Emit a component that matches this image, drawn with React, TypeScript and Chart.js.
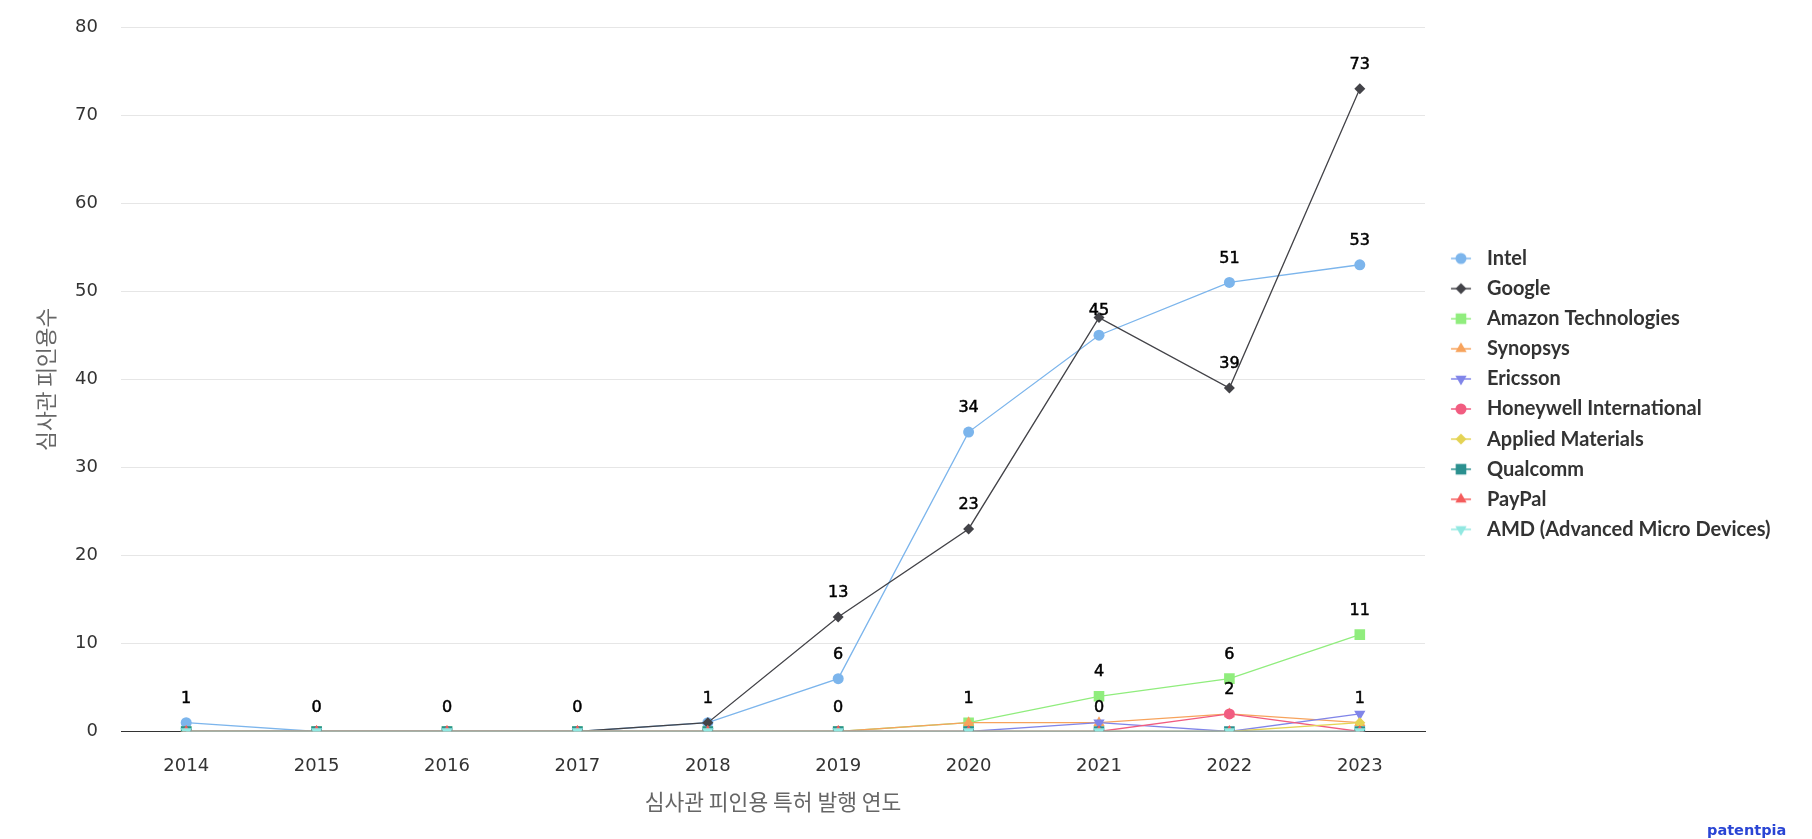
import React, { useEffect, useRef } from 'react';
import { Chart, registerables } from 'chart.js';
import { drawPoint } from 'chart.js/helpers';

Chart.register(...registerables);

const CANVAS_W = 1812;
const CANVAS_H = 839;

const years = ['2014', '2015', '2016', '2017', '2018', '2019', '2020', '2021', '2022', '2023'];

const intel = [1, 0, 0, 0, 1, 6, 34, 45, 51, 53];
const google = [0, 0, 0, 0, 1, 13, 23, 47, 39, 73];
const amazon = [0, 0, 0, 0, 0, 0, 1, 4, 6, 11];
const synopsys = [0, 0, 0, 0, 0, 0, 1, 1, 2, 1];
const ericsson = [0, 0, 0, 0, 0, 0, 0, 1, 0, 2];
const honeywell = [0, 0, 0, 0, 0, 0, 0, 0, 2, 0];
const applied = [0, 0, 0, 0, 0, 0, 0, 0, 0, 1];
const qualcomm = [0, 0, 0, 0, 0, 0, 0, 0, 0, 0];
const paypal = [0, 0, 0, 0, 0, 0, 0, 0, 0, 0];
const amd = [0, 0, 0, 0, 0, 0, 0, 0, 0, 0];

const seriesNames = [
  'Intel',
  'Google',
  'Amazon Technologies',
  'Synopsys',
  'Ericsson',
  'Honeywell International',
  'Applied Materials',
  'Qualcomm',
  'PayPal',
  'AMD (Advanced Micro Devices)',
];
const seriesValues = [intel, google, amazon, synopsys, ericsson, honeywell, applied, qualcomm, paypal, amd];
const seriesColors = ['#7cb5ec', '#434348', '#90ed7d', '#f7a35c', '#8085e9', '#f15c80', '#e4d354', '#2b908f', '#f45b5b', '#91e8e1'];
const markerStyles = ['circle', 'rectRot', 'rect', 'triangle', 'triangle', 'circle', 'rectRot', 'rect', 'triangle', 'triangle'];
const markerRotations = [0, 0, 0, 0, 180, 0, 0, 0, 0, 180];
const markerRadii = [5.5, 5.5, 7.5, 6.5, 6.5, 5.5, 5.5, 7.5, 6.5, 6.5];

// which points (by category index) show a value label, per series
const labelIndexes = [
  [0, 1, 2, 3, 4, 5, 6, 7, 8, 9],
  [5, 6, 8, 9],
  [5, 6, 7, 8, 9],
  [],
  [],
  [7, 8],
  [9],
  [],
  [],
  [],
];

const yMin = 0;
const yMax = 80;
const yStep = 10;

const xTitle = '심사관 피인용 특허 발행 연도';
const yTitle = '심사관 피인용수';
const creditText = 'patentpia';

const LATIN = '"DejaVu Sans", sans-serif';
const KOREAN = '"Noto Sans CJK KR", sans-serif';
const LEGEND_FAMILY = 'Lato, "DejaVu Sans", sans-serif';
const LEGEND_WEIGHT = 'bold';

// layout targets (full-size pixels)
const PLOT_TOP = 27;
const PLOT_BOTTOM = 731.5;
const PLOT_LEFT = 121;
const PLOT_RIGHT = 1425;
const LEGEND_TEXT_X = 1487;
const LEGEND_SYMBOL_X0 = 1451;
const LEGEND_SYMBOL_X1 = 1471;
const LEGEND_FIRST_ROW_Y = 258.5;
const LEGEND_ROW_STEP = 30.1;
const LEGEND_TEXT_TARGET_W = 284;

function makeLegendSymbol(i: number, cx: number): HTMLCanvasElement {
  const w = Math.ceil(2 * (LEGEND_SYMBOL_X1 + 2 - cx));
  const imgLeft = cx - w / 2;
  const c = document.createElement('canvas');
  c.width = w;
  c.height = 18;
  const ctx = c.getContext('2d') as CanvasRenderingContext2D;
  ctx.strokeStyle = seriesColors[i];
  ctx.lineWidth = 1.5;
  ctx.beginPath();
  ctx.moveTo(LEGEND_SYMBOL_X0 - imgLeft, 9);
  ctx.lineTo(LEGEND_SYMBOL_X1 - imgLeft, 9);
  ctx.stroke();
  ctx.fillStyle = seriesColors[i];
  drawPoint(
    ctx,
    { pointStyle: markerStyles[i] as any, rotation: markerRotations[i], radius: markerRadii[i], borderWidth: 0 } as any,
    (LEGEND_SYMBOL_X0 + LEGEND_SYMBOL_X1) / 2 - imgLeft,
    9
  );
  return c;
}

const dataLabelPlugin = {
  id: 'valueLabels',
  afterDatasetsDraw(chart: any) {
    const ctx = chart.ctx as CanvasRenderingContext2D;
    ctx.save();
    ctx.font = `16px ${LATIN}`;
    ctx.fillStyle = '#000000';
    ctx.strokeStyle = '#000000';
    ctx.lineWidth = 0.5;
    ctx.textAlign = 'center';
    ctx.textBaseline = 'middle';
    labelIndexes.forEach((idxs, di) => {
      const meta = chart.getDatasetMeta(di);
      idxs.forEach((j) => {
        const pt = meta.data[j];
        if (!pt) return;
        const v = chart.data.datasets[di].data[j];
        ctx.fillText(String(v), pt.x, pt.y - 24);
        ctx.strokeText(String(v), pt.x, pt.y - 24);
      });
    });
    ctx.restore();
  },
};

export default function App() {
  const canvasRef = useRef<HTMLCanvasElement | null>(null);

  useEffect(() => {
    const canvas = canvasRef.current;
    if (!canvas) return;

    // fit legend font size to the reference text width
    const mctx = document.createElement('canvas').getContext('2d') as CanvasRenderingContext2D;
    mctx.font = `${LEGEND_WEIGHT} 20px ${LEGEND_FAMILY}`;
    const w20 = Math.max(...seriesNames.map((n) => mctx.measureText(n).width));
    const fontSize = Math.round((20 * LEGEND_TEXT_TARGET_W) / w20 * 10) / 10;
    mctx.font = `${LEGEND_WEIGHT} ${fontSize}px ${LEGEND_FAMILY}`;
    const maxText = Math.max(...seriesNames.map((n) => mctx.measureText(n).width));

    const pad = LEGEND_ROW_STEP - fontSize;
    const boxW = LEGEND_TEXT_X - PLOT_RIGHT - pad - fontSize / 2;
    const symbolCx = PLOT_RIGHT + pad + boxW / 2;
    const legendWidth = pad + boxW + fontSize / 2 + maxText + 10;
    const padRight = Math.max(0, CANVAS_W - PLOT_RIGHT - legendWidth);
    const titleH = 2 * (LEGEND_FIRST_ROW_Y - fontSize / 2) - (PLOT_TOP + pad + PLOT_BOTTOM - 10 * LEGEND_ROW_STEP);

    const symbols = seriesNames.map((_, i) => makeLegendSymbol(i, symbolCx));

    const datasets = seriesNames.map((name, i) => ({
      label: name,
      data: seriesValues[i],
      borderColor: seriesColors[i],
      backgroundColor: seriesColors[i],
      borderWidth: 1.3,
      pointStyle: markerStyles[i],
      pointRotation: markerRotations[i],
      pointRadius: markerRadii[i],
      pointHoverRadius: markerRadii[i],
      pointBorderWidth: 0,
      pointBackgroundColor: seriesColors[i],
      tension: 0,
      fill: false,
      order: seriesNames.length - i,
    }));

    const chart = new Chart(canvas, {
      type: 'line',
      data: { labels: years, datasets: datasets as any },
      options: {
        responsive: false,
        animation: false,
        devicePixelRatio: 1,
        layout: { padding: { top: PLOT_TOP, right: padRight, bottom: 0, left: 0 } },
        plugins: {
          tooltip: { enabled: false },
          legend: {
            position: 'right',
            align: 'center',
            fullSize: false,
            title: {
              display: true,
              text: '',
              font: { size: 10, lineHeight: 1 },
              padding: { top: Math.max(0, titleH - 10), bottom: 0 },
            },
            labels: {
              usePointStyle: true,
              pointStyleWidth: boxW,
              boxHeight: fontSize,
              padding: pad,
              color: '#333333',
              font: { family: LEGEND_FAMILY, size: fontSize, weight: LEGEND_WEIGHT },
              generateLabels: (ch: any) =>
                ch.data.datasets.map((ds: any, i: number) => ({
                  text: ds.label,
                  pointStyle: symbols[i],
                  fillStyle: seriesColors[i],
                  strokeStyle: seriesColors[i],
                  lineWidth: 0,
                  hidden: false,
                  datasetIndex: i,
                  fontColor: '#333333',
                })),
            },
          },
        },
        scales: {
          x: {
            type: 'category',
            offset: true,
            grid: { display: false, drawTicks: false },
            border: { display: true, color: '#333333', width: 1 },
            ticks: { padding: 24, color: '#333333', font: { family: LATIN, size: 18 } },
            title: {
              display: true,
              text: xTitle,
              color: '#666666',
              font: { family: KOREAN, size: 21.5 },
              padding: { top: 0, bottom: 24 },
            },
            afterFit: (s: any) => {
              s.height = CANVAS_H - PLOT_BOTTOM;
            },
          },
          y: {
            min: yMin,
            max: yMax,
            ticks: { stepSize: yStep, padding: 23, color: '#333333', font: { family: LATIN, size: 18 } },
            grid: {
              drawTicks: false,
              color: (c: any) => (c.tick && c.tick.value === 0 ? 'rgba(0,0,0,0)' : '#e6e6e6'),
              lineWidth: 1,
            },
            border: { display: false },
            title: {
              display: true,
              text: yTitle,
              color: '#666666',
              font: { family: KOREAN, size: 21.5 },
              padding: { top: 33, bottom: 0 },
            },
            afterFit: (s: any) => {
              s.width = PLOT_LEFT;
              s.paddingTop = 0;
              s.paddingBottom = 0;
            },
          },
        },
      } as any,
      plugins: [dataLabelPlugin],
    });

    return () => {
      chart.destroy();
    };
  }, []);

  return (
    <div
      style={{
        position: 'fixed',
        left: 0,
        top: 0,
        width: CANVAS_W,
        height: CANVAS_H,
        background: '#ffffff',
        overflow: 'hidden',
      }}
    >
      <canvas ref={canvasRef} width={CANVAS_W} height={CANVAS_H} style={{ display: 'block' }} />
      <div
        style={{
          position: 'absolute',
          left: 1707,
          top: 821,
          fontFamily: LATIN,
          fontWeight: 'bold',
          fontSize: 14.5,
          lineHeight: '18px',
          color: '#2a45d4',
          whiteSpace: 'nowrap',
        }}
      >
        {creditText}
      </div>
    </div>
  );
}
